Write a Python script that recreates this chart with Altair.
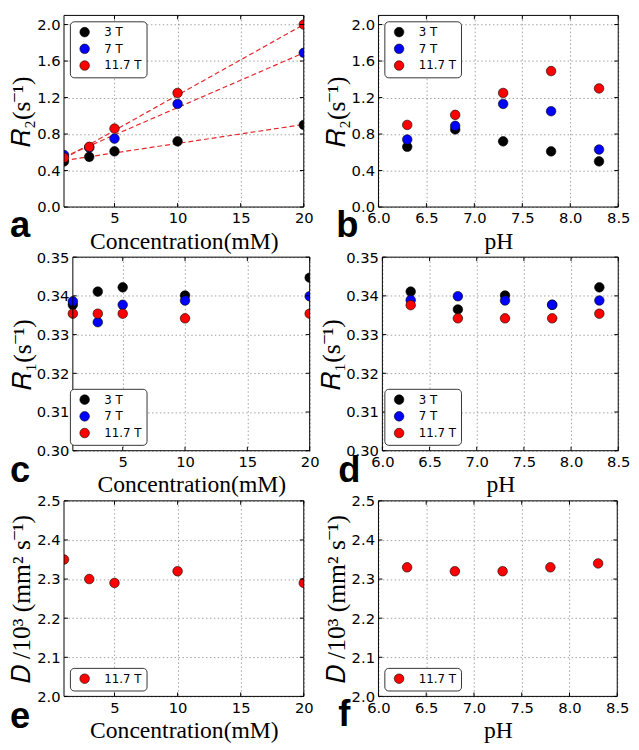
import altair as alt
import pandas as pd

# ---------------- data ----------------
series = ["3 T", "7 T", "11.7 T"]
colors = ["#000000", "#0000ff", "#ff0000"]
conc = [1, 3, 5, 10, 20]
ph = [6.3, 6.8, 7.3, 7.8, 8.3]

r2_conc_3t = [0.50, 0.55, 0.61, 0.72, 0.90]
r2_conc_7t = [0.57, 0.65, 0.75, 1.13, 1.69]
r2_conc_117t = [0.54, 0.66, 0.86, 1.25, 2.00]

r2_ph_3t = [0.66, 0.85, 0.72, 0.61, 0.50]
r2_ph_7t = [0.74, 0.89, 1.13, 1.05, 0.63]
r2_ph_117t = [0.90, 1.01, 1.25, 1.49, 1.30]

r1_conc_3t = [0.3377, 0.3411, 0.3422, 0.3401, 0.3447]
r1_conc_7t = [0.3386, 0.3332, 0.3377, 0.3388, 0.3399]
r1_conc_117t = [0.3354, 0.3354, 0.3354, 0.3342, 0.3354]

r1_ph_3t = [0.3411, 0.3365, 0.3401, 0.3377, 0.3422]
r1_ph_7t = [0.3389, 0.3399, 0.3388, 0.3377, 0.3388]
r1_ph_117t = [0.3376, 0.3342, 0.3342, 0.3342, 0.3354]

d_conc_117t = [2.35, 2.30, 2.29, 2.32, 2.29]
d_ph_117t = [2.33, 2.32, 2.32, 2.33, 2.34]

# dashed fit lines in panel a (end points)
fit_x = [1, 20]
fit_3t = [0.51, 0.905]
fit_7t = [0.55, 1.69]
fit_117t = [0.53, 2.00]

conc_ticks = [5, 10, 15, 20]
ph_ticks = [6.0, 6.5, 7.0, 7.5, 8.0, 8.5]
r2_ticks = [0.0, 0.4, 0.8, 1.2, 1.6, 2.0]
r1_ticks = [0.30, 0.31, 0.32, 0.33, 0.34, 0.35]
d_ticks = [2.0, 2.1, 2.2, 2.3, 2.4, 2.5]

R2_TITLE = "\U0001D445\u2082(s\u207b\u00b9)"
R1_TITLE = "\U0001D445\u2081(s\u207b\u00b9)"
D_TITLE = "\U0001D437 /10\u00b3 (mm\u00b2  s\u207b\u00b9)"

TICK = 4


def make_df(xs, ys_list, names):
    rows = []
    for name, ys in zip(names, ys_list):
        for xv, yv in zip(xs, ys):
            rows.append({"x": xv, "y": yv, "series": name})
    return pd.DataFrame(rows)


def panel(xs, ys_list, names, cols, xdom, xticks, xfmt, xtitle,
          ydom, yticks, yfmt, ytitle, letter, ldx, ldy, lorient,
          w, h, x0=0, tpad=2, fits=None):
    """w = full group width; the plot frame spans x0 .. w."""
    df = make_df(xs, ys_list, names)
    xax = alt.Axis(values=xticks, format=xfmt, title=xtitle, labelFlush=False,
                   labelOverlap=False)
    yax = alt.Axis(values=yticks, format=yfmt, title=ytitle, labelFlush=False,
                   labelOverlap=False, titlePadding=tpad, offset=-x0,
                   titleFontSize=26)
    xs_ = alt.Scale(domain=xdom, nice=False, zero=False, range=[x0, w])
    ys_ = alt.Scale(domain=ydom, nice=False, zero=False)

    def X(field):
        return alt.X(field, scale=xs_, axis=xax)

    def Y(field):
        return alt.Y(field, scale=ys_, axis=yax)

    layers = []
    if fits is not None:
        fx, fys = fits
        fdf = make_df(fx, fys, names)
        layers.append(
            alt.Chart(fdf).mark_line(
                color="#e8272a", strokeDash=[5, 3], strokeWidth=1.2, clip=True
            ).encode(x=X("x:Q"), y=Y("y:Q"), detail="series:N")
        )

    pts = alt.Chart(df).mark_point(
        filled=True, size=95, stroke="black", strokeWidth=0.6, opacity=1, clip=True
    ).encode(
        x=X("x:Q"), y=Y("y:Q"),
        color=alt.Color(
            "series:N",
            scale=alt.Scale(domain=names, range=cols),
            legend=alt.Legend(
                title=None, orient=lorient, offset=6, padding=5,
                strokeColor="#333333", fillColor="white", cornerRadius=4,
                symbolType="circle", symbolSize=95, symbolStrokeColor="black",
                symbolStrokeWidth=0.6, labelFont="DejaVu Sans", labelFontSize=12,
                labelColor="black", rowPadding=3, labelOffset=14, symbolOffset=4,
            ),
        ),
    )
    layers.append(pts)

    # inward tick marks on all four sides (matplotlib classic style)
    xt = pd.DataFrame({"x": xticks})
    yt = pd.DataFrame({"y": yticks})
    tick_style = dict(color="black", strokeWidth=1)
    layers.append(alt.Chart(xt).mark_rule(**tick_style).encode(
        x=X("x:Q"), y=alt.value(h), y2=alt.value(h - TICK)))
    layers.append(alt.Chart(xt).mark_rule(**tick_style).encode(
        x=X("x:Q"), y=alt.value(0), y2=alt.value(TICK)))
    layers.append(alt.Chart(yt).mark_rule(**tick_style).encode(
        y=Y("y:Q"), x=alt.value(x0), x2=alt.value(x0 + TICK)))
    layers.append(alt.Chart(yt).mark_rule(**tick_style).encode(
        y=Y("y:Q"), x=alt.value(w - TICK), x2=alt.value(w)))

    # plot frame
    layers.append(alt.Chart(pd.DataFrame({"f": [0]})).mark_rect(
        fillOpacity=0, stroke="black", strokeWidth=1
    ).encode(x=alt.value(x0), x2=alt.value(w), y=alt.value(0), y2=alt.value(h)))

    lab = alt.Chart(pd.DataFrame({"t": [letter]})).mark_text(
        font="Liberation Sans", fontSize=37, fontWeight="bold",
        align="left", baseline="alphabetic", color="black",
    ).encode(text="t:N", x=alt.value(ldx), y=alt.value(h + ldy))
    layers.append(lab)
    return alt.layer(*layers).properties(width=w, height=h)


H1, H2, H3 = 195, 197, 199

a = panel(conc, [r2_conc_3t, r2_conc_7t, r2_conc_117t], series, colors,
          [1, 20], conc_ticks, "d", "Concentration(mM)",
          [0, 2.1], r2_ticks, ".1f", R2_TITLE, "a", -55, 30, "top-left",
          244, H1, fits=(fit_x, [fit_3t, fit_7t, fit_117t]))
b = panel(ph, [r2_ph_3t, r2_ph_7t, r2_ph_117t], series, colors,
          [6.0, 8.5], ph_ticks, ".1f", "pH",
          [0, 2.1], r2_ticks, ".1f", R2_TITLE, "b", -43, 31, "top-left",
          244, H1)
c = panel(conc, [r1_conc_3t, r1_conc_7t, r1_conc_117t], series, colors,
          [1, 20], conc_ticks, "d", "Concentration(mM)",
          [0.30, 0.35], r1_ticks, ".2f", R1_TITLE, "c", -55, 32, "bottom-left",
          250, H2, x0=9, tpad=1)
d = panel(ph, [r1_ph_3t, r1_ph_7t, r1_ph_117t], series, colors,
          [6.0, 8.5], ph_ticks, ".1f", "pH",
          [0.30, 0.35], r1_ticks, ".2f", R1_TITLE, "d", -41, 32, "bottom-left",
          244, H2, x0=4, tpad=1)
e = panel(conc, [d_conc_117t], ["11.7 T"], ["#ff0000"],
          [1, 20], conc_ticks, "d", "Concentration(mM)",
          [2.0, 2.5], d_ticks, ".1f", D_TITLE, "e", -55, 32, "bottom-left",
          244, H3)
f = panel(ph, [d_ph_117t], ["11.7 T"], ["#ff0000"],
          [6.0, 8.5], ph_ticks, ".1f", "pH",
          [2.0, 2.5], d_ticks, ".1f", D_TITLE, "f", -41, 30, "bottom-left",
          243, H3)

chart = alt.concat(
    a, b, c, d, e, f,
    columns=2, spacing={"row": 51, "column": 70}, bounds="flush",
).resolve_scale(
    x="independent", y="independent", color="independent"
).resolve_legend(color="independent").properties(
    padding=0,
    background="white",
).configure_view(
    stroke="transparent"
).configure_axis(
    grid=True, gridColor="#8a8a8a", gridDash=[1.5, 2.5], gridWidth=0.8,
    domain=False, ticks=False, labelFont="DejaVu Sans", labelFontSize=15,
    labelColor="black", labelPadding=4, labelOverlap=False,
    titleFont="Liberation Serif",
    titleFontSize=24, titleFontWeight="normal", titleColor="black",
)

chart.save("out.html", embed_options={"renderer": "svg", "actions": False})
